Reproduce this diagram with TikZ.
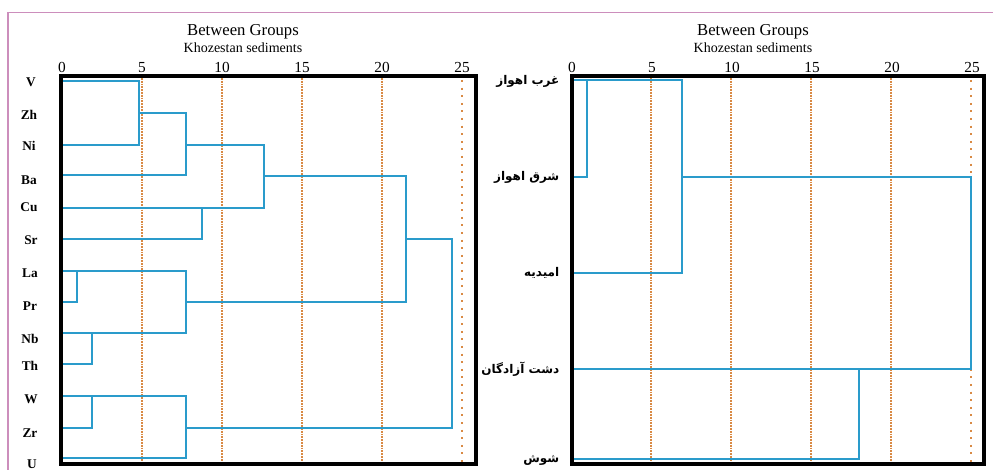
\documentclass[tikz,border=0pt]{standalone}
\usepackage{fontspec}
\setmainfont{Liberation Serif}
\newfontfamily\farsi[Script=Arabic]{DejaVu Sans}
\TeXXeTstate=1
\definecolor{treeblue}{HTML}{2A9BCB}
\definecolor{gridorange}{HTML}{D98A45}
\definecolor{pagepink}{HTML}{CC8EBC}
\tikzset{
  tree/.style={treeblue,line width=1.5pt},
  panel/.style={black,line width=2.3pt},
  cut/.style={gridorange,line width=2pt,dash pattern=on 1.3pt off 0.8pt},
  lastcut/.style={gridorange,line width=2pt,dash pattern=on 1.5pt off 4.2pt},
  leaf/.style={font=\bfseries\fontsize{10}{12}\selectfont},
  fleaf/.style={anchor=east,font=\farsi\bfseries\fontsize{9}{10}\selectfont},
  tick/.style={anchor=south,inner sep=0pt,font=\fontsize{11.5}{12}\selectfont},
}
\begin{document}
\begin{tikzpicture}[x=0.75pt,y=-0.75pt]
  \useasboundingbox (0,0) rectangle (993,470);
  \draw[pagepink,line width=0.9pt] (8,470) -- (8,12.5) -- (993,12.5);

  % left panel
  \node[font=\fontsize{12.5}{14}\selectfont] (ltitle) at (243,32) {Between Groups};
  \node[font=\fontsize{10.5}{12}\selectfont] (lsub) at (243,48) {Khozestan sediments};
  \foreach \v in {0,5,...,25}
    \node[tick] (lt\v) at (62+16*\v,73) {\v};
  \foreach \v in {5,10,15,20}
    \draw[cut] (62+16*\v,78) -- (62+16*\v,463);
  \draw[lastcut] (462,80) -- (462,463);

  \node[leaf] (V) at (31,82) {V};
  \node[leaf] (Zh) at (29,115) {Zh};
  \node[leaf] (Ni) at (29,146) {Ni};
  \node[leaf] (Ba) at (29,180) {Ba};
  \node[leaf] (Cu) at (29,207) {Cu};
  \node[leaf] (Sr) at (31,240) {Sr};
  \node[leaf] (La) at (30,273) {La};
  \node[leaf] (Pr) at (30,306) {Pr};
  \node[leaf] (Nb) at (30,339) {Nb};
  \node[leaf] (Th) at (30,366) {Th};
  \node[leaf] (W) at (31,399) {W};
  \node[leaf] (Zr) at (30,433) {Zr};
  \node[leaf] (U) at (32,464) {U};

  \draw[tree] (62,81) -| (139,145) -- (62,145);
  \draw[tree] (139,113) -| (186,175) -- (62,175);
  \draw[tree] (186,145) -| (264,208) -- (62,208);
  \draw[tree] (62,239) -| (202,208);
  \draw[tree] (264,176) -| (406,302) -- (186,302);
  \draw[tree] (62,271) -| (186,333) -- (62,333);
  \draw[tree] (62,302) -| (77,271);
  \draw[tree] (62,364) -| (92,333);
  \draw[tree] (406,239) -| (452,428) -- (186,428);
  \draw[tree] (62,396) -| (186,458) -- (62,458);
  \draw[tree] (62,428) -| (92,396);

  \draw[panel] (61,76) rectangle (476,464);

  % right panel
  \node[font=\fontsize{12.5}{14}\selectfont] (rtitle) at (753,32) {Between Groups};
  \node[font=\fontsize{10.5}{12}\selectfont] (rsub) at (753,48) {Khozestan sediments};
  \foreach \v in {0,5,...,25}
    \node[tick] (rt\v) at (572+16*\v,73) {\v};
  \foreach \v in {5,10,15,20}
    \draw[cut] (571+16*\v,78) -- (571+16*\v,463);
  \draw[lastcut] (971,80) -- (971,463);

  \node[fleaf] (west) at (564,81) {\beginR غرب اهواز\endR};
  \node[fleaf] (east) at (564,177) {\beginR شرق اهواز\endR};
  \node[fleaf] (omid) at (564,273) {\beginR امیدیه\endR};
  \node[fleaf] (dasht) at (564,369) {\beginR دشت آزادگان\endR};
  \node[fleaf] (shush) at (564,460) {\beginR شوش\endR};

  \draw[tree] (573,80) -- (682,80) |- (573,273);
  \draw[tree] (587,80) |- (573,177);
  \draw[tree] (682,177) -| (971,369) -- (573,369);
  \draw[tree] (859,369) |- (573,459);

  \draw[panel] (572,76) rectangle (984,464);
\end{tikzpicture}
\end{document}
